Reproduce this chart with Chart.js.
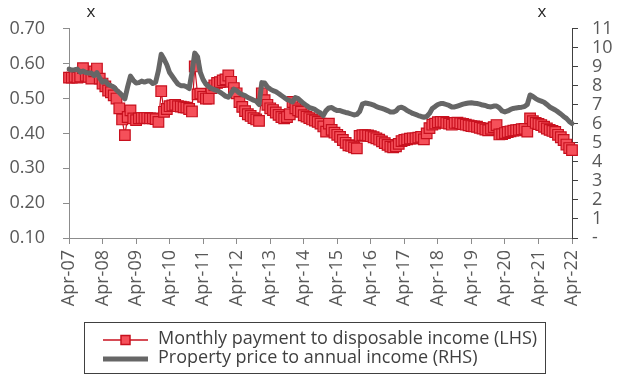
<!DOCTYPE html>
<html>
<head>
<meta charset="utf-8">
<script src="https://cdn.jsdelivr.net/npm/chart.js@4.4.1/dist/chart.umd.min.js"></script>
<style>
  html, body { margin: 0; padding: 0; background: #fff; }
  canvas { display: block; }
</style>
</head>
<body>
<canvas id="affordChart" width="618" height="385"></canvas>
<script>
// monthly series, Apr-07 .. Apr-22 (one row per year, starting in April)
const paymentToIncome = [
  0.560, 0.560, 0.562, 0.560, 0.563, 0.587, 0.565, 0.562, 0.557, 0.578, 0.586, 0.557,
  0.543, 0.535, 0.523, 0.518, 0.509, 0.500, 0.472, 0.440, 0.395, 0.447, 0.466, 0.443,
  0.438, 0.443, 0.444, 0.444, 0.444, 0.443, 0.443, 0.441, 0.433, 0.521, 0.462, 0.470,
  0.478, 0.480, 0.482, 0.478, 0.477, 0.475, 0.474, 0.470, 0.463, 0.592, 0.512, 0.514,
  0.505, 0.500, 0.500, 0.530, 0.538, 0.545, 0.547, 0.552, 0.555, 0.566, 0.548, 0.530,
  0.515, 0.490, 0.476, 0.464, 0.455, 0.450, 0.444, 0.440, 0.436, 0.515, 0.495, 0.482,
  0.472, 0.467, 0.460, 0.453, 0.447, 0.443, 0.447, 0.455, 0.490, 0.472, 0.466, 0.462,
  0.452, 0.448, 0.444, 0.440, 0.437, 0.433, 0.428, 0.420, 0.405, 0.428, 0.410, 0.402,
  0.396, 0.390, 0.381, 0.373, 0.366, 0.364, 0.360, 0.357, 0.393, 0.395, 0.395, 0.394,
  0.392, 0.389, 0.386, 0.382, 0.377, 0.372, 0.367, 0.362, 0.360, 0.363, 0.370, 0.378,
  0.381, 0.383, 0.385, 0.386, 0.386, 0.388, 0.390, 0.383, 0.400, 0.415, 0.425, 0.428,
  0.432, 0.433, 0.433, 0.430, 0.428, 0.425, 0.430, 0.431, 0.429, 0.427, 0.425, 0.423,
  0.421, 0.420, 0.419, 0.416, 0.414, 0.411, 0.409, 0.413, 0.418, 0.424, 0.397, 0.398,
  0.401, 0.404, 0.406, 0.408, 0.409, 0.410, 0.412, 0.413, 0.405, 0.443, 0.435, 0.430,
  0.427, 0.424, 0.419, 0.414, 0.410, 0.407, 0.404, 0.396, 0.389, 0.381, 0.368, 0.358,
  0.352
];

const priceToIncome = [
  8.88, 8.83, 8.85, 8.88, 8.72, 8.78, 8.70, 8.67, 8.67, 8.54, 8.70, 8.41,
  8.19, 8.25, 8.07, 8.01, 7.94, 7.78, 7.65, 7.49, 7.32, 7.96, 8.51, 8.30,
  8.15, 8.17, 8.25, 8.20, 8.25, 8.25, 8.12, 8.19, 8.80, 9.66, 9.41, 9.11,
  8.70, 8.49, 8.28, 8.09, 8.01, 8.01, 7.96, 7.86, 8.70, 9.72, 9.53, 8.70,
  8.33, 8.09, 7.96, 7.86, 7.80, 7.75, 7.67, 7.57, 7.46, 7.40, 7.60, 7.83,
  7.75, 7.62, 7.54, 7.49, 7.39, 7.32, 7.25, 7.20, 7.02, 8.17, 8.15, 7.94,
  7.83, 7.75, 7.70, 7.60, 7.49, 7.39, 7.28, 7.23, 7.15, 7.39, 7.33, 7.20,
  7.07, 6.97, 6.86, 6.81, 6.76, 6.65, 6.57, 6.44, 6.70, 6.84, 6.86, 6.76,
  6.70, 6.70, 6.65, 6.60, 6.57, 6.52, 6.47, 6.50, 6.65, 7.04, 7.10, 7.07,
  7.04, 6.99, 6.91, 6.86, 6.81, 6.76, 6.70, 6.63, 6.62, 6.68, 6.84, 6.88,
  6.81, 6.70, 6.63, 6.55, 6.50, 6.44, 6.39, 6.35, 6.39, 6.55, 6.81, 6.91,
  7.02, 7.07, 7.07, 7.02, 6.97, 6.89, 6.89, 6.94, 6.99, 7.04, 7.07, 7.10,
  7.11, 7.09, 7.07, 7.04, 6.99, 6.97, 6.91, 6.89, 6.94, 6.94, 6.84, 6.68,
  6.63, 6.68, 6.76, 6.81, 6.84, 6.86, 6.88, 6.91, 7.02, 7.52, 7.44, 7.33,
  7.25, 7.20, 7.14, 7.02, 6.89, 6.81, 6.73, 6.63, 6.52, 6.39, 6.29, 6.13,
  6.02
];

const monthNames = ['Jan', 'Feb', 'Mar', 'Apr', 'May', 'Jun', 'Jul', 'Aug', 'Sep', 'Oct', 'Nov', 'Dec'];
const leftTicks = [0.1, 0.7, 0.1];   // min, max, step
const rightTicks = [0, 11, 1];

// Apr-07, May-07, ... one label per data point
const months = paymentToIncome.map((_, i) => {
  const m = (3 + i) % 12;
  const y = 7 + Math.floor((3 + i) / 12);
  return monthNames[m] + '-' + String(y).padStart(2, '0');
});

const TEXT = '#595959';
const AXIS = '#8c8c8c';

// draws the "x" unit marks above both axes and the boxed legend
const boxLegend = {
  id: 'boxLegend',
  afterDraw(chart) {
    const ctx = chart.ctx;
    const area = chart.chartArea;
    ctx.save();
    ctx.fillStyle = '#262626';
    ctx.font = "17px 'Open Sans'";
    ctx.textAlign = 'center';
    ctx.textBaseline = 'middle';
    ctx.fillText('x', area.left + 22, 12);
    ctx.fillText('x', area.right - 30, 12);

    ctx.strokeStyle = '#404040';
    ctx.lineWidth = 1;
    ctx.strokeRect(84.5, 322.5, 461, 51);

    const [red, grey] = [chart.data.datasets[1], chart.data.datasets[0]];
    ctx.textAlign = 'left';
    ctx.font = "18px 'Open Sans'";

    // payment entry: thin line with square marker
    ctx.strokeStyle = red.borderColor;
    ctx.lineWidth = 1.5;
    ctx.beginPath();
    ctx.moveTo(103, 340);
    ctx.lineTo(148, 340);
    ctx.stroke();
    ctx.fillStyle = red.pointBackgroundColor;
    ctx.strokeStyle = red.pointBorderColor;
    ctx.fillRect(121, 335.5, 9, 9);
    ctx.strokeRect(121, 335.5, 9, 9);
    ctx.fillStyle = '#404040';
    ctx.fillText(red.label, 158, 339);

    // price entry: thick grey line
    ctx.strokeStyle = grey.borderColor;
    ctx.lineWidth = 5;
    ctx.beginPath();
    ctx.moveTo(103, 359);
    ctx.lineTo(148, 359);
    ctx.stroke();
    ctx.fillText(grey.label, 158, 358);
    ctx.restore();
  }
};

Chart.defaults.font.family = "'Open Sans', sans-serif";

new Chart(document.getElementById('affordChart'), {
  type: 'line',
  data: {
    labels: months,
    datasets: [{
      label: 'Property price to annual income (RHS)',
      data: priceToIncome,
      yAxisID: 'y1',
      borderColor: '#666666',
      borderWidth: 5,
      borderJoinStyle: 'round',
      borderCapStyle: 'round',
      pointRadius: 0,
      tension: 0
    }, {
      label: 'Monthly payment to disposable income (LHS)',
      data: paymentToIncome,
      yAxisID: 'y',
      borderColor: '#c8101e',
      borderWidth: 1.2,
      pointStyle: 'rect',
      pointRadius: 7.5,
      pointBackgroundColor: '#f5505a',
      pointBorderColor: '#c8101e',
      pointBorderWidth: 1.2,
      tension: 0
    }]
  },
  options: {
    responsive: false,
    animation: false,
    devicePixelRatio: 1,
    layout: { padding: { top: 28, left: 0, right: 0, bottom: 0 } },
    plugins: {
      legend: { display: false },
      tooltip: { enabled: false }
    },
    scales: {
      x: {
        offset: false,
        afterFit: s => { s.height = 147; },
        grid: { drawOnChartArea: false, color: AXIS, tickLength: 6 },
        border: { color: AXIS },
        ticks: {
          autoSkip: false,
          minRotation: 90,
          maxRotation: 90,
          padding: 6,
          color: TEXT,
          font: { size: 18 },
          callback: function (v, i) {
            return i % 12 === 0 ? this.getLabelForValue(v) : null;
          }
        }
      },
      y: {
        position: 'left',
        min: leftTicks[0],
        max: leftTicks[1],
        afterFit: s => { s.width = 69; },
        grid: { drawOnChartArea: false, color: AXIS, tickLength: 6 },
        border: { color: AXIS },
        ticks: {
          stepSize: leftTicks[2],
          autoSkip: false,
          padding: 18,
          color: TEXT,
          font: { size: 18 },
          callback: v => v.toFixed(2)
        }
      },
      y1: {
        position: 'right',
        min: rightTicks[0],
        max: rightTicks[1],
        afterFit: s => { s.width = 46; },
        grid: { drawOnChartArea: false, color: '#404040', tickLength: 6 },
        border: { color: '#404040' },
        ticks: {
          stepSize: rightTicks[2],
          maxTicksLimit: 20,
          autoSkip: false,
          padding: 14,
          color: TEXT,
          font: { size: 18 },
          callback: v => (v === 0 ? '-' : v)
        }
      }
    }
  },
  plugins: [boxLegend]
});
</script>
</body>
</html>
